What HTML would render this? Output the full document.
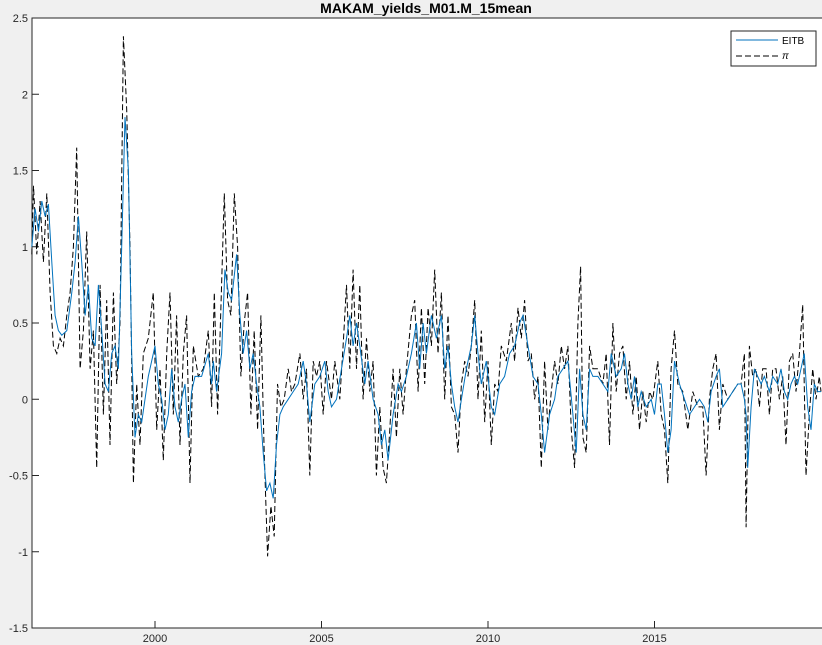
<!DOCTYPE html>
<html><head><meta charset="utf-8"><style>
body{margin:0;background:#f0f0f0;}
svg{display:block;font-family:"Liberation Sans",sans-serif;}
</style></head><body>
<svg id="chart" width="822" height="645" xmlns="http://www.w3.org/2000/svg">
<rect width="822" height="645" fill="#f0f0f0"/>
<text x="426" y="13" text-anchor="middle" font-size="14" font-weight="bold" fill="#000">MAKAM_yields_M01.M_15mean</text>
<rect x="32" y="18" width="792" height="610" fill="#fff" stroke="#262626" stroke-width="1"/>
<g id="ticks"></g>
<g id="series"></g>
<g>
<rect x="731" y="31" width="85" height="35" fill="#fff" stroke="#262626"/>
<line x1="736" y1="40" x2="778" y2="40" stroke="#0072bd" stroke-width="1"/>
<text x="782" y="44" font-size="10">EITB</text>
<line x1="736" y1="56" x2="778" y2="56" stroke="#000" stroke-dasharray="6,3" stroke-width="1"/>
<text x="782" y="59" font-size="10" font-style="italic">π</text>
</g>
</svg>
<script>
const yTicks=[2.5,2,1.5,1,0.5,0,-0.5,-1,-1.5];
const yTickLabels=["2.5","2","1.5","1","0.5","0","-0.5","-1","-1.5"];
const xTicks=[2000,2005,2010,2015];
const xTickLabels=["2000","2005","2010","2015"];
const eitbT=[1996.3,1996.4,1996.5,1996.6,1996.7,1996.8,1996.9,1997.0,1997.1,1997.2,1997.35,1997.5,1997.6,1997.7,1997.8,1997.9,1998.0,1998.1,1998.2,1998.3,1998.4,1998.5,1998.6,1998.7,1998.8,1998.9,1999.0,1999.1,1999.2,1999.3,1999.4,1999.5,1999.6,1999.8,2000.0,2000.1,2000.2,2000.3,2000.4,2000.5,2000.6,2000.7,2000.8,2000.9,2001.0,2001.1,2001.2,2001.4,2001.6,2001.7,2001.75,2001.85,2002.0,2002.1,2002.2,2002.3,2002.45,2002.55,2002.65,2002.75,2002.85,2002.95,2003.05,2003.15,2003.25,2003.35,2003.45,2003.55,2003.65,2003.75,2003.85,2004.0,2004.15,2004.3,2004.45,2004.55,2004.65,2004.8,2004.95,2005.1,2005.2,2005.3,2005.45,2005.6,2005.75,2005.85,2005.95,2006.05,2006.15,2006.3,2006.4,2006.55,2006.7,2006.8,2006.9,2007.0,2007.15,2007.3,2007.4,2007.55,2007.7,2007.85,2007.95,2008.05,2008.15,2008.3,2008.45,2008.6,2008.7,2008.8,2008.9,2009.0,2009.1,2009.2,2009.35,2009.5,2009.6,2009.7,2009.8,2009.95,2010.1,2010.2,2010.35,2010.5,2010.65,2010.8,2010.95,2011.05,2011.2,2011.35,2011.5,2011.6,2011.7,2011.85,2012.0,2012.1,2012.25,2012.4,2012.55,2012.65,2012.75,2012.85,2012.95,2013.05,2013.15,2013.3,2013.45,2013.6,2013.7,2013.85,2014.0,2014.1,2014.2,2014.3,2014.4,2014.5,2014.6,2014.75,2014.9,2015.0,2015.1,2015.2,2015.3,2015.4,2015.5,2015.6,2015.75,2015.9,2016.05,2016.2,2016.35,2016.5,2016.6,2016.7,2016.85,2016.95,2017.05,2017.2,2017.35,2017.5,2017.6,2017.7,2017.75,2017.8,2017.9,2018.0,2018.1,2018.2,2018.3,2018.45,2018.55,2018.7,2018.8,2018.9,2019.0,2019.1,2019.2,2019.3,2019.4,2019.5,2019.6,2019.7,2019.8,2019.9,2020.0];
const eitbV=[1.0,1.25,1.1,1.3,1.2,1.28,0.9,0.55,0.45,0.42,0.45,0.7,0.9,1.2,0.9,0.55,0.75,0.4,0.35,0.75,0.45,0.1,0.05,0.3,0.35,0.2,1.0,1.85,1.5,0.3,-0.25,-0.1,-0.15,0.15,0.35,0.1,0.0,-0.2,-0.1,0.2,-0.05,-0.15,0.0,0.1,-0.25,0.05,0.15,0.15,0.3,0.1,0.25,0.05,0.3,0.85,0.7,0.65,0.95,0.55,0.3,0.45,0.2,0.3,0.1,-0.05,-0.35,-0.6,-0.55,-0.65,-0.3,-0.1,-0.05,0.0,0.05,0.1,0.25,0.1,-0.15,0.1,0.15,0.25,0.05,-0.05,0.0,0.2,0.4,0.55,0.35,0.5,0.35,0.1,0.25,0.0,-0.1,-0.3,-0.2,-0.4,-0.1,0.1,0.05,0.15,0.3,0.5,0.2,0.5,0.3,0.55,0.4,0.55,0.2,0.35,0.1,-0.05,-0.15,0.0,0.2,0.35,0.55,0.3,0.1,0.25,-0.05,-0.1,0.1,0.15,0.3,0.35,0.5,0.55,0.35,0.15,0.1,-0.1,-0.35,-0.1,0.0,0.15,0.2,0.25,-0.1,-0.35,0.2,-0.1,-0.2,0.2,0.15,0.15,0.1,0.05,0.3,0.15,0.2,0.3,0.1,0.0,0.15,-0.05,0.05,-0.05,0.0,-0.1,0.1,0.1,-0.1,-0.35,-0.2,0.25,0.1,0.0,-0.1,-0.05,0.0,-0.05,-0.15,0.05,0.15,0.2,-0.05,0.0,0.05,0.1,0.1,0.0,-0.1,-0.45,-0.05,0.2,0.15,0.1,0.15,0.05,0.15,0.1,0.2,0.05,0.0,0.1,0.15,0.1,0.2,0.3,-0.05,-0.2,0.1,0.05,0.05];
const piT=[1996.3,1996.35,1996.45,1996.55,1996.65,1996.75,1996.85,1996.95,1997.05,1997.15,1997.25,1997.35,1997.45,1997.55,1997.65,1997.75,1997.85,1997.95,1998.05,1998.15,1998.25,1998.35,1998.45,1998.55,1998.65,1998.75,1998.85,1998.95,1999.05,1999.15,1999.25,1999.35,1999.45,1999.55,1999.65,1999.8,1999.95,2000.05,2000.15,2000.25,2000.35,2000.45,2000.55,2000.65,2000.75,2000.85,2000.95,2001.05,2001.15,2001.3,2001.45,2001.6,2001.7,2001.78,2001.88,2001.98,2002.08,2002.18,2002.28,2002.38,2002.48,2002.58,2002.68,2002.78,2002.88,2002.98,2003.08,2003.18,2003.28,2003.38,2003.48,2003.58,2003.68,2003.78,2003.88,2004.0,2004.1,2004.2,2004.35,2004.45,2004.55,2004.65,2004.75,2004.85,2004.95,2005.05,2005.15,2005.3,2005.4,2005.55,2005.65,2005.75,2005.85,2005.95,2006.05,2006.15,2006.25,2006.35,2006.45,2006.55,2006.65,2006.75,2006.85,2006.95,2007.05,2007.15,2007.25,2007.35,2007.45,2007.55,2007.7,2007.8,2007.9,2008.0,2008.1,2008.2,2008.3,2008.4,2008.5,2008.6,2008.7,2008.8,2008.9,2009.0,2009.1,2009.2,2009.3,2009.4,2009.5,2009.6,2009.7,2009.8,2009.9,2010.0,2010.1,2010.2,2010.3,2010.4,2010.55,2010.7,2010.8,2010.9,2011.0,2011.1,2011.2,2011.3,2011.4,2011.5,2011.6,2011.7,2011.8,2011.9,2012.0,2012.1,2012.2,2012.3,2012.4,2012.5,2012.6,2012.7,2012.78,2012.85,2012.95,2013.05,2013.15,2013.3,2013.45,2013.55,2013.65,2013.75,2013.85,2013.95,2014.05,2014.15,2014.25,2014.35,2014.45,2014.55,2014.65,2014.75,2014.85,2014.95,2015.1,2015.2,2015.3,2015.4,2015.5,2015.6,2015.7,2015.85,2016.0,2016.15,2016.3,2016.45,2016.55,2016.65,2016.75,2016.85,2016.95,2017.05,2017.2,2017.35,2017.5,2017.6,2017.7,2017.75,2017.8,2017.85,2017.95,2018.05,2018.15,2018.25,2018.35,2018.45,2018.55,2018.65,2018.75,2018.85,2018.95,2019.05,2019.15,2019.25,2019.35,2019.45,2019.55,2019.65,2019.75,2019.85,2019.95,2020.0];
const piV=[0.95,1.4,0.95,1.3,0.9,1.35,0.7,0.35,0.3,0.4,0.35,0.55,0.7,1.0,1.65,0.2,0.45,1.1,0.2,0.45,-0.45,0.75,-0.1,0.65,-0.3,0.7,0.1,0.5,2.38,1.9,1.0,-0.55,0.1,-0.3,0.3,0.4,0.7,-0.2,0.2,-0.4,0.3,0.7,-0.1,0.55,-0.3,0.3,0.55,-0.55,0.35,0.15,0.2,0.45,-0.05,0.7,-0.1,0.6,1.35,0.65,0.55,1.35,1.0,0.15,0.5,0.7,-0.1,0.45,-0.2,0.55,-0.35,-1.03,-0.7,-0.9,0.1,-0.05,0.0,0.2,0.05,0.1,0.3,0.0,0.2,-0.5,0.25,0.15,0.25,-0.1,0.25,0.0,0.25,0.0,0.35,0.75,0.2,0.85,0.2,0.75,0.0,0.4,0.05,0.25,-0.5,-0.05,-0.45,-0.55,-0.2,0.2,-0.25,0.2,-0.1,0.2,0.55,0.65,0.05,0.6,0.1,0.6,0.35,0.85,0.3,0.7,0.0,0.55,-0.05,-0.1,-0.35,0.1,0.25,0.15,0.35,0.65,0.0,0.45,-0.15,0.25,-0.3,0.1,0.05,0.35,0.25,0.5,0.25,0.6,0.4,0.65,0.25,0.3,0.0,0.15,-0.45,0.25,-0.2,0.05,0.25,0.1,0.35,0.2,0.35,-0.2,-0.45,0.5,0.87,-0.25,-0.35,0.35,0.2,0.2,0.1,0.3,-0.3,0.5,0.05,0.3,0.35,0.0,0.25,-0.1,0.15,-0.2,0.05,-0.15,0.05,0.0,0.25,-0.1,-0.2,-0.55,0.2,0.45,0.1,0.05,-0.2,0.05,-0.05,-0.05,-0.5,0.0,0.2,0.3,-0.2,0.1,0.0,0.05,0.1,0.1,0.3,-0.84,-0.2,0.35,0.15,0.2,-0.05,0.2,0.2,-0.1,0.2,0.2,0.0,0.15,-0.3,0.25,0.3,0.05,0.3,0.62,-0.5,-0.1,0.2,0.0,0.15,0.05];

const NS="http://www.w3.org/2000/svg";
const L=32,T=18,B=628;
function xS(t){return 155+(t-2000)*33.3;}
function yS(v){return T+(2.5-v)*(B-T)/4;}
const tg=document.getElementById('ticks');
yTicks.forEach((v,i)=>{
  const y=yS(v);
  const ln=document.createElementNS(NS,'line');
  ln.setAttribute('x1',L);ln.setAttribute('x2',L+7);ln.setAttribute('y1',y);ln.setAttribute('y2',y);
  ln.setAttribute('stroke','#262626');
  
  
  tg.appendChild(ln);
  const tx=document.createElementNS(NS,'text');
  tx.setAttribute('x',L-4);tx.setAttribute('y',y+4);tx.setAttribute('text-anchor','end');tx.setAttribute('font-size','11');tx.setAttribute('fill','#262626');
  tx.textContent=yTickLabels[i];
  
  
  tg.appendChild(tx);
});
xTicks.forEach((t,i)=>{
  const x=xS(t);
  const ln=document.createElementNS(NS,'line');
  ln.setAttribute('x1',x);ln.setAttribute('x2',x);ln.setAttribute('y1',B);ln.setAttribute('y2',B-7);
  ln.setAttribute('stroke','#262626');
  
  
  tg.appendChild(ln);
  const tx=document.createElementNS(NS,'text');
  tx.setAttribute('x',x);tx.setAttribute('y',B+14);tx.setAttribute('text-anchor','middle');tx.setAttribute('font-size','11');tx.setAttribute('fill','#262626');
  tx.textContent=xTickLabels[i];
  
  
  tg.appendChild(tx);
});
const sg=document.getElementById('series');
function pathOf(ts,vs){return ts.map((t,i)=>(i?'L':'M')+xS(t).toFixed(1)+','+yS(vs[i]).toFixed(1)).join('');}
const p1=document.createElementNS(NS,'path');
p1.setAttribute('d',pathOf(piT,piV));
p1.setAttribute('fill','none');p1.setAttribute('stroke','#000');p1.setAttribute('stroke-dasharray','6,3');p1.setAttribute('stroke-width','1');


sg.appendChild(p1);
const p2=document.createElementNS(NS,'path');
p2.setAttribute('d',pathOf(eitbT,eitbV));
p2.setAttribute('fill','none');p2.setAttribute('stroke','#0072bd');p2.setAttribute('stroke-width','1');


sg.appendChild(p2);
</script>
</body></html>
